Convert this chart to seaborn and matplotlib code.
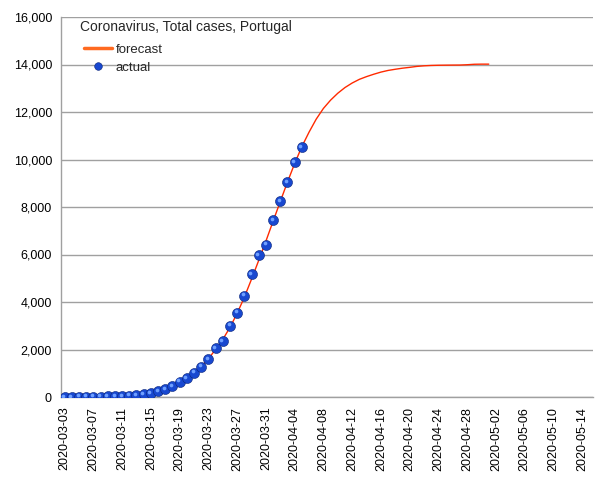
import matplotlib
matplotlib.use("Agg")
import matplotlib.pyplot as plt
import matplotlib.transforms as mtransforms
from matplotlib.lines import Line2D
import seaborn as sns
import pandas as pd

# Category axis (dates)
dates = [d.strftime("%Y-%m-%d") for d in pd.date_range("2020-03-03", "2020-05-15")]

# Actual total cases (one per day starting at 2020-03-03)
actual = [2, 4, 6, 9, 13, 21, 30, 39, 41, 59, 78, 112, 169, 245, 331, 448, 642,
          785, 1020, 1280, 1600, 2060, 2362, 2995, 3544, 4268, 5170, 5962, 6408,
          7443, 8251, 9034, 9886, 10524]

# Forecast (one per day starting at 2020-03-03)
forecast = [5, 7, 10, 14, 20, 28, 38, 50, 65, 85, 110, 145, 195, 260, 345, 455,
            600, 780, 1000, 1280, 1610, 2000, 2420, 2930, 3520, 4200, 4960, 5750,
            6560, 7400, 8230, 9050, 9830, 10540, 11150, 11700, 12150, 12500,
            12790, 13030, 13220, 13375, 13490, 13590, 13680, 13750, 13800, 13845,
            13880, 13920, 13945, 13960, 13968, 13972, 13975, 13977, 13990, 14010,
            14015, 14015]

title_text = "Coronavirus, Total cases, Portugal"

df_f = pd.DataFrame({"idx": range(len(forecast)), "cases": forecast})
df_a = pd.DataFrame({"idx": range(len(actual)), "cases": actual})

sns.set_style("white")
plt.rcParams["font.family"] = ["Liberation Sans", "DejaVu Sans"]

fig = plt.figure(figsize=(6.05, 4.8), dpi=100)
ax = fig.add_axes([61 / 605, 1 - 397 / 480, (593 - 61) / 605, (397 - 17) / 480])

grid_c = "#a0a0a0"
ax.set_axisbelow(True)
ax.yaxis.grid(True, color=grid_c, linewidth=1)
ax.xaxis.grid(False)

sns.lineplot(data=df_f, x="idx", y="cases", ax=ax, color="#ff2a00", linewidth=1.0,
             zorder=3, legend=False)
sns.scatterplot(data=df_a, x="idx", y="cases", ax=ax, color="#1848d0", s=52,
                edgecolor="#0a2478", linewidth=0.4, zorder=4, legend=False)
hl = mtransforms.offset_copy(ax.transData, fig=fig, x=-1.0, y=1.0, units="points")
ax.scatter(df_a["idx"], df_a["cases"], s=7, color="#6fa0ff", linewidths=0,
           zorder=5, transform=hl)

ax.set_xlim(-0.5, len(dates) - 0.5)
ax.set_ylim(0, 16000)
ax.set_yticks(range(0, 16001, 2000))
ax.set_yticklabels([f"{v:,}" for v in range(0, 16001, 2000)])

major = list(range(0, len(dates), 4))
ax.set_xticks(major)
ax.set_xticklabels([dates[i] for i in major], rotation=90)
ax.set_xticks([i - 0.5 for i in range(0, len(dates) + 1, 2)], minor=True)
ax.tick_params(axis="x", which="major", length=0, pad=7, labelsize=9, colors="black")
ax.tick_params(axis="x", which="minor", length=5, width=1, color=grid_c, direction="out")
ax.tick_params(axis="y", which="major", length=5, width=1, color=grid_c, pad=1.5,
               labelsize=9, labelcolor="black")
ax.set_xlabel("")
ax.set_ylabel("")

for s in ["top", "right"]:
    ax.spines[s].set_visible(False)
for s in ["left", "bottom"]:
    ax.spines[s].set_color(grid_c)
    ax.spines[s].set_linewidth(1)

handles = [
    Line2D([0], [0], color="#ff6a20", linewidth=2.5),
    Line2D([0], [0], marker="o", linestyle="none", markersize=5.5,
           markerfacecolor="#1848d0", markeredgecolor="#0a2478", markeredgewidth=0.4),
]
leg = ax.legend(handles, ["forecast", "actual"], title=title_text,
                loc="upper left", bbox_to_anchor=(80 / 605, 1 - 20 / 480),
                bbox_transform=fig.transFigure, frameon=False, fontsize=9.5,
                title_fontsize=10, alignment="left", handlelength=2.1,
                handletextpad=0.3, labelspacing=0.42, borderaxespad=0,
                borderpad=0)
leg._legend_box.align = "left"
leg._legend_handle_box.pad = 3

fig.savefig("out.png", dpi=100)
